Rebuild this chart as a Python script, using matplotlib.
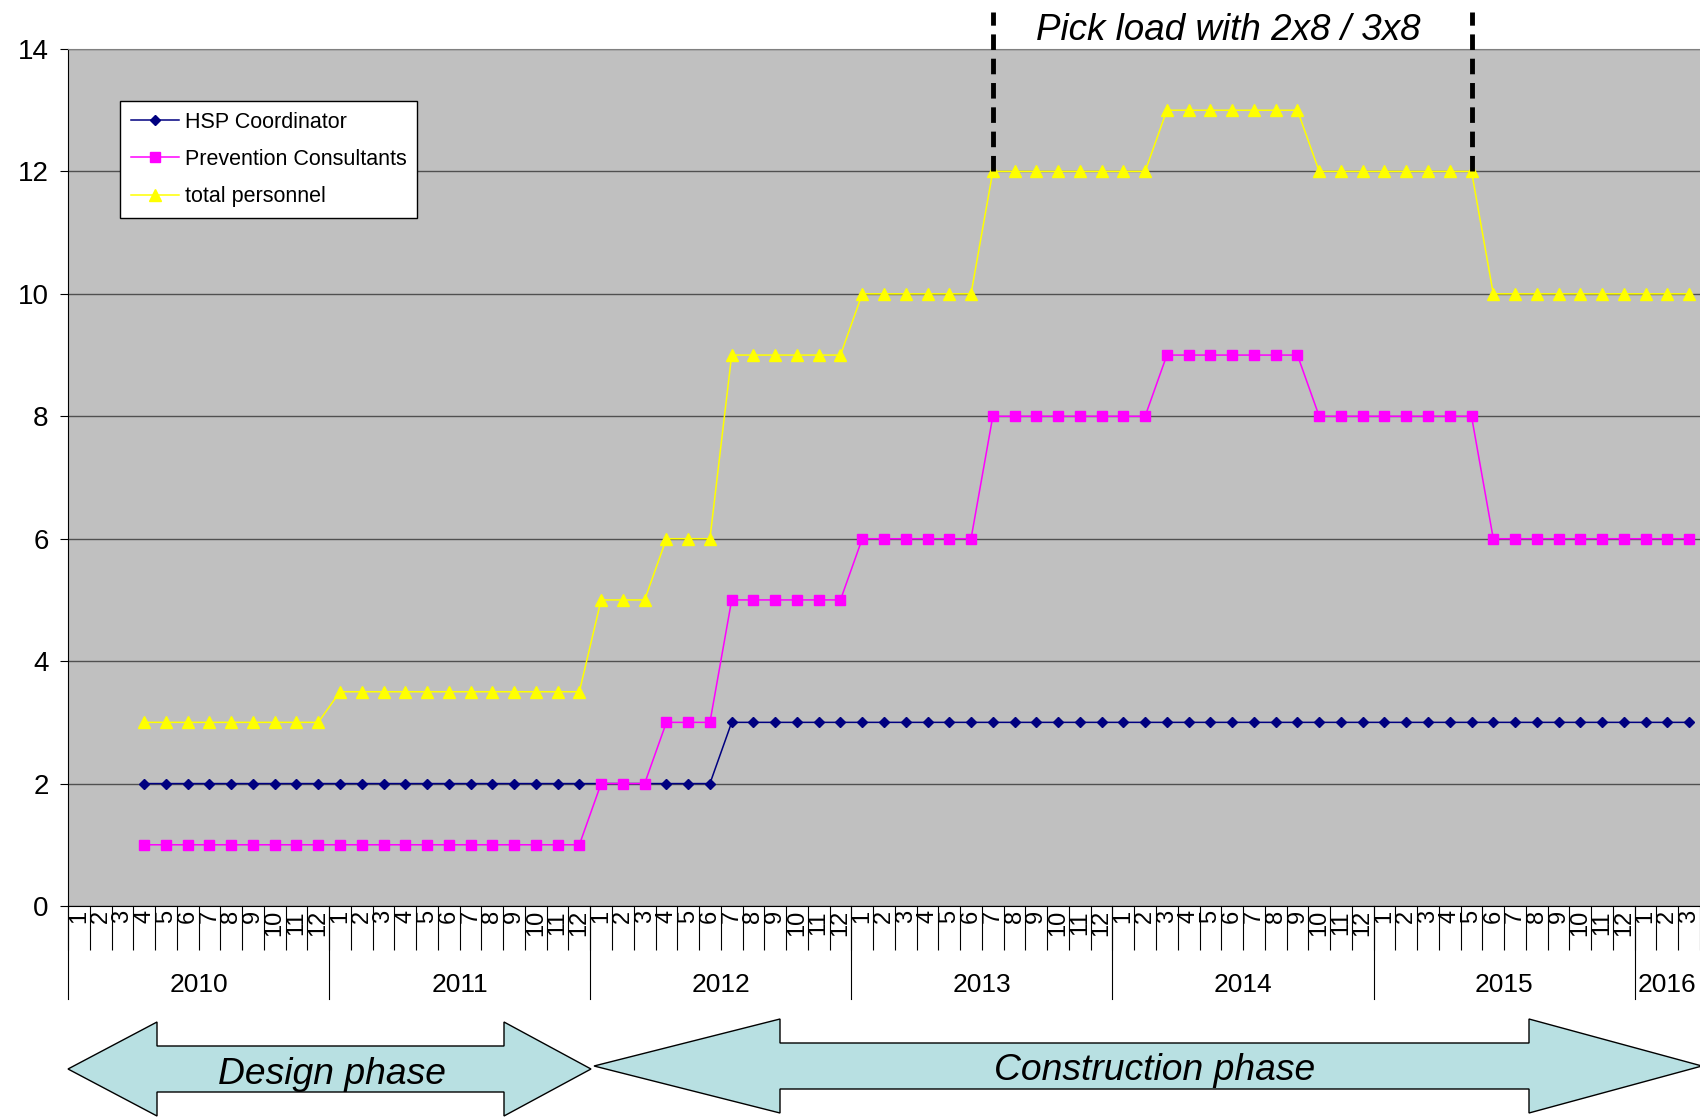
import numpy as np
import matplotlib
matplotlib.use("Agg")
import matplotlib.pyplot as plt
from matplotlib.patches import Polygon

plt.rcParams['font.family'] = ['Liberation Sans', 'DejaVu Sans']

# ---- data (monthly, Jan 2010 .. Mar 2016) ----
years = ['2010', '2011', '2012', '2013', '2014', '2015', '2016']
months = [str(m) for m in range(1, 13)] * 6 + ['1', '2', '3']
start_idx = 3  # series start in April 2010

hsp = [2, 2, 2, 2, 2, 2, 2, 2, 2,
       2, 2, 2, 2, 2, 2, 2, 2, 2, 2, 2, 2,
       2, 2, 2, 2, 2, 2, 3, 3, 3, 3, 3, 3,
       3, 3, 3, 3, 3, 3, 3, 3, 3, 3, 3, 3,
       3, 3, 3, 3, 3, 3, 3, 3, 3, 3, 3, 3,
       3, 3, 3, 3, 3, 3, 3, 3, 3, 3, 3, 3,
       3, 3, 3]
prevention = [1, 1, 1, 1, 1, 1, 1, 1, 1,
              1, 1, 1, 1, 1, 1, 1, 1, 1, 1, 1, 1,
              2, 2, 2, 3, 3, 3, 5, 5, 5, 5, 5, 5,
              6, 6, 6, 6, 6, 6, 8, 8, 8, 8, 8, 8,
              8, 8, 9, 9, 9, 9, 9, 9, 9, 8, 8, 8,
              8, 8, 8, 8, 8, 6, 6, 6, 6, 6, 6, 6,
              6, 6, 6]
total = [3, 3, 3, 3, 3, 3, 3, 3, 3,
         3.5, 3.5, 3.5, 3.5, 3.5, 3.5, 3.5, 3.5, 3.5, 3.5, 3.5, 3.5,
         5, 5, 5, 6, 6, 6, 9, 9, 9, 9, 9, 9,
         10, 10, 10, 10, 10, 10, 12, 12, 12, 12, 12, 12,
         12, 12, 13, 13, 13, 13, 13, 13, 13, 12, 12, 12,
         12, 12, 12, 12, 12, 10, 10, 10, 10, 10, 10, 10,
         10, 10, 10]
peak_months = [42, 64]   # Jul 2013, May 2015

W, H = 1700, 1119
fig = plt.figure(figsize=(W / 100, H / 100), dpi=100)
ax = fig.add_axes([68 / W, 1 - 906 / H, 1 - 68 / W, (906 - 49) / H])
ax.set_facecolor('#C0C0C0')

x = np.arange(start_idx, start_idx + len(total))
ax.plot(x, hsp, color='#000080', lw=1.1, marker='D', ms=5.5, label='HSP Coordinator')
ax.plot(x, prevention, color='#FF00FF', lw=1.1, marker='s', ms=7, label='Prevention Consultants')
ax.plot(x, total, color='#FFFF00', lw=1.1, marker='^', ms=8.5, label='total personnel')

n = len(months)
ax.set_xlim(-0.5, n - 0.5)
ax.set_ylim(0, 14)
ax.set_yticks(range(0, 15, 2))
ax.grid(axis='y', color='#505050', lw=1)
ax.set_axisbelow(True)
ax.tick_params(axis='y', labelsize=20, length=6, pad=8)

ax.spines['right'].set_visible(False)
ax.spines['top'].set_color('#808080')
ax.spines['left'].set_color('black')
ax.spines['bottom'].set_color('black')

# month cells
ax.set_xticks(np.arange(-0.5, n, 1.0))
ax.set_xticklabels([])
ax.tick_params(axis='x', which='major', length=31.7, width=0.8, color='black')
ax.set_xticks(np.arange(n), minor=True)
ax.set_xticklabels(months, minor=True, rotation=90, fontsize=17, va='top')
ax.tick_params(axis='x', which='minor', length=0, pad=3)

# year separators and labels
axh = 906 - 49
for k, yr in enumerate(years):
    ax.plot([12 * k - 0.5] * 2, [0, -93 / axh], transform=ax.get_xaxis_transform(),
            color='black', lw=0.8, clip_on=False)
    last = min(12 * k + 11, n - 1)
    ax.text((12 * k + last) / 2, -79 / axh, yr, transform=ax.get_xaxis_transform(),
            ha='center', va='center', fontsize=19)

# peak-load markers
for m in peak_months:
    ax.plot([m, m], [total[m - start_idx], 14.6], color='black', lw=3.5,
            dashes=(3.2, 1.8), clip_on=False, zorder=5)
fig.text(1228 / W, 1 - 31 / H, 'Pick load with 2x8 / 3x8', ha='center', va='center',
         fontsize=26.5, style='italic')

leg = ax.legend(loc='upper left', bbox_to_anchor=(120 / W, 1 - 101 / H),
                bbox_transform=fig.transFigure, borderaxespad=0, fontsize=15.5,
                fancybox=False, framealpha=1, edgecolor='black', handlelength=2.25,
                handletextpad=0.25, labelspacing=0.75, borderpad=0.5)
leg.get_frame().set_linewidth(1)

# phase arrows
def arrow(xl, xr, hb_l, hb_r, yc, head_h, body_h, text, tx):
    pts = [(xl, yc), (hb_l, yc - head_h / 2), (hb_l, yc - body_h / 2),
           (hb_r, yc - body_h / 2), (hb_r, yc - head_h / 2), (xr, yc),
           (hb_r, yc + head_h / 2), (hb_r, yc + body_h / 2),
           (hb_l, yc + body_h / 2), (hb_l, yc + head_h / 2)]
    pts = [(px / W, 1 - py / H) for px, py in pts]
    fig.patches.append(Polygon(pts, closed=True, transform=fig.transFigure,
                               facecolor='#B8E0E2', edgecolor='black', lw=1))
    fig.text(tx / W, 1 - (yc + 5) / H, text, ha='center', va='center',
             fontsize=26.8, style='italic')

arrow(68, 591, 157, 504, 1069, 94, 46, 'Design phase', 332)
arrow(594, 1702, 780, 1529, 1066, 94, 46, 'Construction phase', 1155)

fig.savefig('out.png', dpi=100)
